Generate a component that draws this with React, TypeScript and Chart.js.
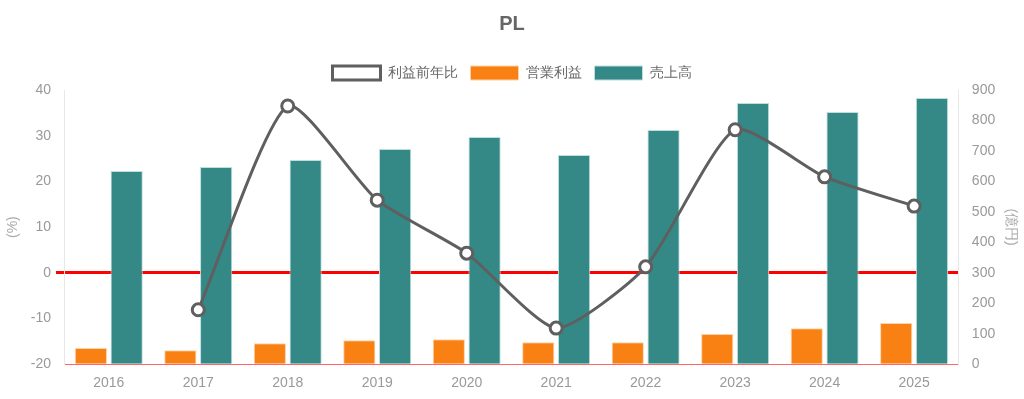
import React, { useEffect, useRef } from "react";
import { Chart, registerables } from "chart.js";

Chart.register(...registerables);

const years = ["2016", "2017", "2018", "2019", "2020", "2021", "2022", "2023", "2024", "2025"];
const profitYoY: (number | null)[] = [null, -8.1, 36.5, 15.9, 4.3, -12.1, 1.3, 31.3, 21.0, 14.6];
const operatingProfit = [53, 46, 69, 79, 82, 72, 72, 99, 118, 135];
const sales = [634, 647, 670, 706, 746, 687, 769, 857, 828, 874];

export default function App() {
  const ref = useRef<HTMLCanvasElement | null>(null);
  useEffect(() => {
    if (!ref.current) return;
    Chart.defaults.font.family = "'Liberation Sans', Arial, sans-serif";
    const chart = new Chart(ref.current, {
      type: "bar",
      data: {
        labels: years,
        datasets: [
          {
            type: "line",
            label: "利益前年比",
            data: profitYoY,
            yAxisID: "y",
            borderColor: "#5f5f5f",
            backgroundColor: "#ffffff",
            borderWidth: 3,
            pointRadius: 6,
            pointBorderWidth: 3,
            pointBackgroundColor: "#ffffff",
            pointBorderColor: "#5f5f5f",
            tension: 0.2,
            fill: false,
          } as any,
          {
            type: "bar",
            label: "営業利益",
            data: operatingProfit,
            yAxisID: "y1",
            backgroundColor: "#f98012",
            borderColor: "#fcd2a8",
            borderWidth: 1,
          },
          {
            type: "bar",
            label: "売上高",
            data: sales,
            yAxisID: "y1",
            backgroundColor: "#348886",
            borderColor: "#bcdede",
            borderWidth: 1,
          },
        ],
      },
      options: {
        animation: false,
        responsive: true,
        maintainAspectRatio: false,
        layout: { padding: { left: 1, right: 1, top: 2, bottom: 4 } },
        plugins: {
          title: {
            display: true,
            text: "PL",
            color: "#666",
            font: { size: 20, weight: "bold" },
            padding: { top: 10, bottom: 17 },
          },
          legend: {
            labels: { color: "#666", font: { size: 14 }, boxWidth: 48, padding: 13 },
          },
          tooltip: { enabled: false },
        },
        scales: {
          x: {
            grid: { display: false },
            border: { color: "rgba(255,0,0,0.6)" },
            ticks: { color: "#999", font: { size: 14 } },
          },
          y: {
            position: "left",
            min: -20,
            max: 40,
            ticks: { stepSize: 10, color: "#999", font: { size: 14 }, padding: 5 },
            grid: {
              color: (c: any) => (c.tick && c.tick.value === 0 ? "red" : "rgba(0,0,0,0)"),
              lineWidth: (c: any) => (c.tick && c.tick.value === 0 ? 3 : 1),
            },
            border: { color: "#e8e8e8" },
            title: { display: true, text: "(%)", color: "#aaa", font: { size: 14 } },
          },
          y1: {
            position: "right",
            min: 0,
            max: 900,
            ticks: { stepSize: 100, color: "#999", font: { size: 14 }, padding: 5 },
            grid: { display: true, drawOnChartArea: false, color: "rgba(0,0,0,0)" },
            border: { color: "#e8e8e8" },
            title: { display: true, text: "(億円)", color: "#aaa", font: { size: 14 }, padding: { top: 4, bottom: 2 } },
          },
        },
      },
    });
    return () => chart.destroy();
  }, []);
  return (
    <div style={{ position: "fixed", left: 0, top: 0, width: 1024, height: 399 }}>
      <canvas ref={ref} />
    </div>
  );
}
